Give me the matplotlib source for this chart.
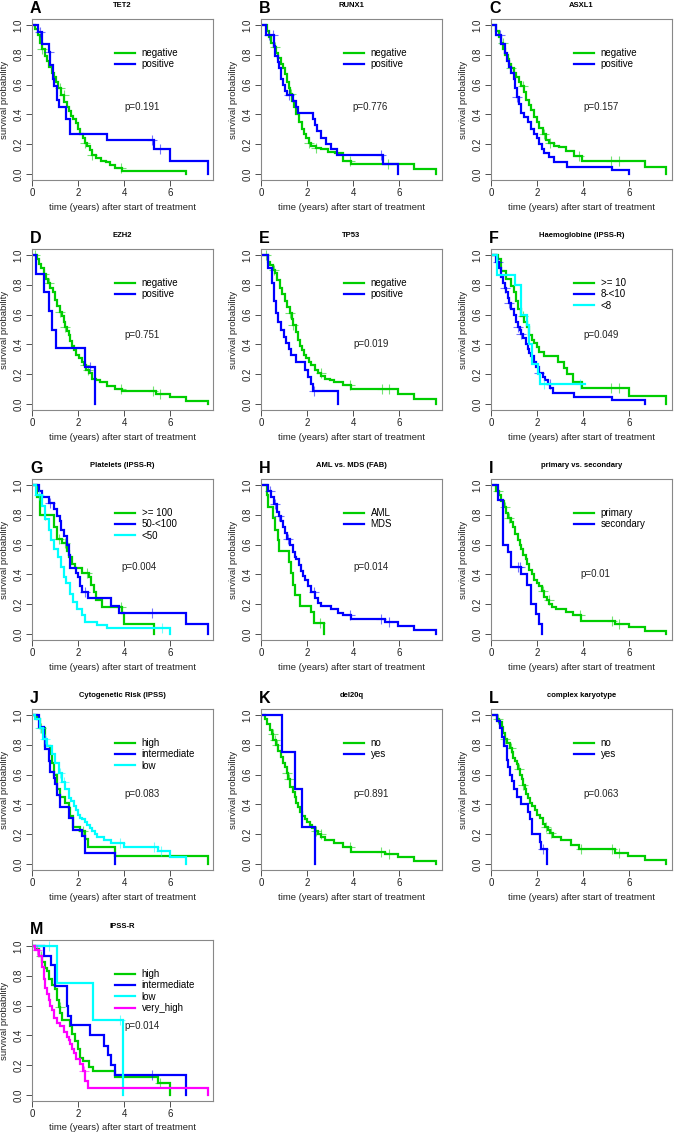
import numpy as np
import matplotlib
matplotlib.use("Agg")
import matplotlib.pyplot as plt

plt.rcParams['font.family'] = ['Liberation Sans', 'DejaVu Sans']

GREEN = '#00CD00'
BLUE = '#0000FF'
CYAN = '#00FFFF'
MAGENTA = '#FF00FF'

# ---------------- data (step times, survival after step, censor times) ----------------
# A  TET2
A_neg_t = [0.15,0.25,0.35,0.45,0.55,0.65,0.75,0.85,0.95,1.05,1.15,1.25,1.4,1.5,1.6,1.7,1.8,1.9,2.0,2.1,2.2,2.3,2.4,2.5,2.6,2.8,3.0,3.2,3.4,3.6,3.9,6.67]
A_neg_s = [0.97,0.93,0.88,0.84,0.79,0.76,0.72,0.68,0.65,0.62,0.58,0.53,0.48,0.45,0.42,0.39,0.37,0.34,0.30,0.27,0.24,0.21,0.19,0.16,0.13,0.11,0.09,0.08,0.06,0.04,0.02,0.0]
A_neg_c = [0.45,1.2,1.38,2.32,2.6,3.85]
A_pos_t = [0.25,0.45,0.72,0.8,0.9,0.97,1.07,1.16,1.48,1.67,3.26,5.3,5.99,7.64]
A_pos_s = [0.955,0.87,0.82,0.73,0.64,0.59,0.50,0.45,0.37,0.27,0.23,0.17,0.085,0.0]
A_pos_c = [0.35,0.75,5.22,5.58]
# B  RUNX1
B_neg_t = [0.25,0.35,0.45,0.55,0.65,0.75,0.85,0.95,1.04,1.12,1.2,1.28,1.36,1.45,1.54,1.65,1.76,1.87,1.97,2.1,2.19,2.4,2.6,2.9,3.2,3.55,3.9,6.65,7.58]
B_neg_s = [0.96,0.92,0.88,0.85,0.81,0.78,0.74,0.71,0.67,0.62,0.58,0.54,0.49,0.45,0.40,0.35,0.30,0.27,0.24,0.21,0.19,0.175,0.165,0.15,0.14,0.09,0.07,0.035,0.0]
B_neg_c = [0.6,1.32,2.1,2.4,3.85,5.5]
B_pos_t = [0.22,0.58,0.62,0.72,0.8,0.88,0.95,1.03,1.15,1.4,1.5,1.62,2.26,2.33,2.45,2.6,2.82,3.05,3.3,5.28,5.96]
B_pos_s = [0.93,0.86,0.79,0.75,0.71,0.64,0.60,0.56,0.53,0.49,0.45,0.41,0.37,0.33,0.29,0.24,0.20,0.165,0.125,0.065,0.0]
B_pos_c = [0.35,0.5,1.2,5.2]
# C  ASXL1
C_neg_t = [0.23,0.35,0.45,0.52,0.62,0.72,0.8,0.88,0.98,1.09,1.2,1.31,1.42,1.53,1.64,1.74,1.88,2.0,2.1,2.24,2.38,2.53,2.75,2.96,3.25,3.6,3.97,6.68,7.61]
C_neg_s = [0.96,0.92,0.88,0.84,0.80,0.77,0.74,0.71,0.68,0.65,0.62,0.59,0.55,0.50,0.46,0.43,0.38,0.35,0.31,0.27,0.23,0.205,0.19,0.18,0.155,0.12,0.09,0.045,0.0]
C_neg_c = [0.5,0.88,1.38,2.3,2.55,3.83,5.2,5.55]
C_pos_t = [0.23,0.45,0.59,0.68,0.78,0.88,0.98,1.05,1.12,1.2,1.3,1.45,1.6,1.74,1.88,2.0,2.1,2.22,2.32,2.53,2.75,3.32,5.27,5.99]
C_pos_s = [0.93,0.87,0.81,0.76,0.72,0.68,0.64,0.58,0.52,0.47,0.41,0.38,0.35,0.30,0.27,0.24,0.20,0.17,0.14,0.115,0.08,0.05,0.025,0.0]
C_pos_c = [0.37,1.15]
# D  EZH2
D_neg_t = [0.2,0.29,0.4,0.5,0.6,0.7,0.8,0.9,1.0,1.1,1.2,1.3,1.38,1.45,1.52,1.6,1.67,1.75,1.82,1.92,2.03,2.15,2.25,2.35,2.46,2.6,2.8,2.97,3.26,3.6,3.9,5.4,6.0,6.67,7.64]
D_neg_s = [0.97,0.94,0.91,0.87,0.84,0.81,0.78,0.75,0.70,0.66,0.62,0.59,0.55,0.52,0.49,0.46,0.42,0.39,0.36,0.33,0.31,0.28,0.26,0.23,0.21,0.17,0.16,0.15,0.12,0.10,0.086,0.065,0.045,0.022,0.0]
D_neg_c = [0.15,0.5,0.75,1.2,1.45,2.3,2.45,3.85,5.25,5.58]
D_pos_t = [0.17,0.5,0.75,0.87,1.06,2.32,2.75]
D_pos_s = [0.875,0.75,0.625,0.5,0.375,0.25,0.0]
D_pos_c = [2.5]
# E  TP53
E_neg_t = [0.3,0.4,0.5,0.6,0.7,0.82,0.92,1.04,1.14,1.25,1.33,1.4,1.5,1.61,1.7,1.76,1.87,1.97,2.08,2.19,2.33,2.48,2.62,2.76,3.0,3.19,3.55,3.91,5.93,6.65,7.58]
E_neg_s = [0.95,0.93,0.90,0.88,0.83,0.78,0.74,0.69,0.65,0.61,0.57,0.53,0.48,0.43,0.39,0.36,0.33,0.31,0.28,0.26,0.23,0.21,0.19,0.17,0.16,0.15,0.125,0.10,0.07,0.034,0.0]
E_neg_c = [0.2,0.55,1.25,1.4,2.6,3.85,5.25,5.58]
E_pos_t = [0.32,0.46,0.58,0.65,0.72,0.89,0.99,1.08,1.2,1.32,1.54,1.9,2.04,2.16,2.26,3.34]
E_pos_s = [0.91,0.81,0.69,0.61,0.55,0.50,0.45,0.41,0.37,0.33,0.28,0.23,0.18,0.135,0.09,0.0]
E_pos_c = [2.3]
# F  Haemoglobine
F_hi_t = [0.3,0.45,0.66,0.88,1.02,1.1,1.17,1.31,1.45,1.55,1.67,1.78,1.88,2.0,2.1,2.32,2.9,3.18,3.32,3.54,3.97,5.99,7.6]
F_hi_s = [0.97,0.89,0.84,0.79,0.75,0.69,0.64,0.59,0.55,0.52,0.46,0.43,0.41,0.38,0.35,0.32,0.28,0.24,0.20,0.15,0.11,0.055,0.0]
F_hi_c = [1.38,5.2,5.55]
F_mid_t = [0.23,0.35,0.45,0.52,0.59,0.66,0.73,0.8,0.88,0.98,1.09,1.17,1.24,1.31,1.38,1.5,1.6,1.67,1.74,1.85,1.96,2.1,2.24,2.35,2.46,2.57,2.68,3.61,5.27,6.68]
F_mid_s = [0.95,0.91,0.85,0.81,0.78,0.75,0.71,0.68,0.64,0.60,0.55,0.52,0.50,0.47,0.44,0.40,0.37,0.34,0.32,0.28,0.25,0.21,0.18,0.16,0.135,0.105,0.075,0.05,0.025,0.0]
F_mid_c = [0.3,0.6,0.8,1.17,1.31,2.1,2.55]
F_lo_t = [0.27,1.06,1.31,1.55,1.67,1.8,2.02,2.12,4.1]
F_lo_s = [0.867,0.8,0.6,0.533,0.4,0.267,0.2,0.133,0.133]
F_lo_c = [2.29,3.86]
# G  Platelets
G_hi_t = [0.22,0.36,0.94,1.08,1.3,1.52,1.62,1.74,1.88,2.17,2.46,2.56,2.68,2.78,3.04,3.91,3.98,5.29]
G_hi_s = [0.92,0.80,0.72,0.64,0.61,0.56,0.52,0.47,0.44,0.41,0.38,0.33,0.28,0.23,0.18,0.14,0.068,0.0]
G_hi_c = [0.58,1.16,1.45,2.39,3.87]
G_mid_t = [0.29,0.43,0.72,0.97,1.08,1.2,1.28,1.38,1.52,1.59,1.67,1.93,1.98,2.07,2.17,2.42,3.41,3.77,6.7,7.64]
G_mid_s = [0.96,0.92,0.88,0.84,0.79,0.76,0.70,0.66,0.60,0.53,0.44,0.41,0.38,0.32,0.28,0.24,0.19,0.14,0.068,0.0]
G_mid_c = [0.8,2.28,5.22]
G_lo_t = [0.19,0.43,0.58,0.72,0.83,0.94,1.12,1.26,1.38,1.49,1.64,1.78,1.96,2.17,2.32,2.83,3.26,6.01]
G_lo_s = [0.93,0.86,0.77,0.70,0.63,0.57,0.52,0.45,0.38,0.34,0.27,0.215,0.17,0.125,0.08,0.063,0.04,0.0]
G_lo_c = [0.3,5.65]
# H  AML vs MDS
H_aml_t = [0.24,0.32,0.53,0.6,0.72,0.78,1.2,1.3,1.38,1.47,1.68,2.19,2.3,2.73]
H_aml_s = [0.93,0.85,0.78,0.70,0.63,0.56,0.48,0.41,0.33,0.26,0.19,0.15,0.074,0.0]
H_aml_c = [2.55]
H_mds_t = [0.3,0.45,0.58,0.68,0.78,0.89,0.96,1.04,1.12,1.25,1.4,1.47,1.54,1.63,1.73,1.82,1.9,2.04,2.19,2.33,2.48,2.62,3.05,3.34,3.55,3.91,5.4,5.96,6.65,7.58]
H_mds_s = [0.96,0.92,0.87,0.82,0.79,0.76,0.72,0.68,0.64,0.60,0.55,0.52,0.50,0.46,0.42,0.39,0.36,0.32,0.28,0.24,0.21,0.19,0.17,0.14,0.125,0.10,0.08,0.054,0.027,0.0]
H_mds_c = [0.4,0.6,0.8,1.18,2.3,3.85,5.2,5.55]
# I  primary vs secondary
I_pri_t = [0.23,0.35,0.45,0.55,0.66,0.75,0.85,0.95,1.05,1.17,1.24,1.31,1.4,1.5,1.58,1.67,1.77,1.88,2.0,2.1,2.2,2.32,2.42,2.53,2.65,2.82,3.25,3.54,3.9,5.4,5.99,6.68,7.6]
I_pri_s = [0.96,0.93,0.89,0.85,0.81,0.78,0.75,0.72,0.67,0.63,0.60,0.57,0.53,0.50,0.47,0.43,0.40,0.36,0.34,0.32,0.29,0.25,0.23,0.20,0.18,0.17,0.15,0.125,0.09,0.07,0.05,0.023,0.0]
I_pri_c = [0.3,0.6,0.8,2.25,2.5,3.85,5.25,5.58]
I_sec_t = [0.3,0.52,0.73,0.88,1.31,1.55,1.74,1.96,2.07,2.2]
I_sec_s = [0.90,0.60,0.55,0.45,0.40,0.33,0.20,0.133,0.067,0.0]
I_sec_c = [1.17,1.24]
# J  Cytogenetic risk
J_hi_t = [0.22,0.36,0.58,0.8,0.87,0.94,1.09,1.23,1.45,1.6,1.67,1.78,2.07,2.32,2.42,3.62,7.64]
J_hi_s = [0.97,0.91,0.79,0.74,0.68,0.60,0.50,0.45,0.41,0.375,0.32,0.25,0.22,0.17,0.115,0.057,0.0]
J_hi_c = [0.4,2.2]
J_mid_t = [0.29,0.5,0.58,0.72,0.8,0.94,1.01,1.1,1.23,1.6,1.78,2.17,2.32,3.62]
J_mid_s = [0.92,0.85,0.77,0.69,0.62,0.58,0.54,0.46,0.385,0.31,0.23,0.19,0.077,0.0]
J_mid_c = []
J_lo_t = [0.14,0.33,0.48,0.65,0.87,1.01,1.16,1.3,1.45,1.6,1.7,1.81,1.9,1.99,2.08,2.17,2.28,2.39,2.5,2.61,2.72,2.83,3.12,3.41,3.99,5.45,6.01,6.67]
J_lo_s = [0.975,0.91,0.84,0.79,0.74,0.68,0.61,0.55,0.50,0.44,0.42,0.39,0.36,0.33,0.31,0.30,0.28,0.26,0.24,0.22,0.20,0.18,0.16,0.14,0.115,0.09,0.045,0.0]
J_lo_c = [0.35,0.55,1.23,1.4,3.84,5.29,5.6]
# K  del20q
K_no_t = [0.17,0.28,0.39,0.46,0.53,0.64,0.75,0.86,0.96,1.04,1.11,1.18,1.25,1.4,1.47,1.54,1.61,1.68,1.79,1.9,2.0,2.12,2.22,2.33,2.47,2.62,2.76,3.19,3.55,3.91,5.4,5.93,6.65,7.58]
K_no_s = [0.975,0.94,0.90,0.87,0.83,0.80,0.76,0.72,0.68,0.65,0.61,0.57,0.52,0.48,0.45,0.41,0.38,0.35,0.32,0.30,0.28,0.26,0.24,0.22,0.20,0.18,0.16,0.14,0.115,0.08,0.065,0.045,0.022,0.0]
K_no_c = [0.5,0.6,0.68,1.15,1.2,2.4,2.6,3.85,5.2,5.55]
K_yes_t = [0.92,1.47,1.78,2.33]
K_yes_s = [0.75,0.5,0.25,0.0]
K_yes_c = []
# L  complex karyotype
L_no_t = [0.24,0.35,0.46,0.53,0.6,0.7,0.82,0.9,0.96,1.04,1.11,1.18,1.25,1.33,1.4,1.47,1.54,1.61,1.68,1.79,1.9,2.01,2.12,2.26,2.36,2.47,2.58,2.69,3.05,3.48,3.84,5.4,5.97,6.68,7.61]
L_no_s = [0.975,0.95,0.92,0.88,0.84,0.81,0.78,0.75,0.71,0.69,0.67,0.64,0.60,0.57,0.53,0.50,0.47,0.44,0.41,0.39,0.36,0.33,0.31,0.27,0.25,0.23,0.21,0.18,0.16,0.127,0.10,0.075,0.052,0.025,0.0]
L_no_c = [0.3,0.6,0.85,1.2,1.4,2.4,2.6,3.9,5.25,5.58]
L_yes_t = [0.24,0.39,0.46,0.58,0.68,0.75,0.82,0.92,1.01,1.11,1.32,1.61,1.68,1.76,2.12,2.19,2.45]
L_yes_s = [0.96,0.91,0.85,0.79,0.70,0.65,0.60,0.56,0.50,0.45,0.40,0.35,0.30,0.20,0.15,0.10,0.0]
L_yes_c = [2.26]
# M  IPSS-R
M_hi_t = [0.14,0.29,0.43,0.58,0.65,0.72,0.87,1.01,1.09,1.16,1.23,1.3,1.67,1.74,1.88,1.99,2.07,2.22,2.46,2.64,3.62,5.45,5.99]
M_hi_s = [0.98,0.93,0.89,0.85,0.83,0.78,0.74,0.71,0.64,0.59,0.55,0.50,0.46,0.41,0.36,0.31,0.25,0.23,0.185,0.16,0.12,0.078,0.0]
M_hi_c = [0.4,1.2,5.58]
M_mid_t = [0.54,0.83,1.01,1.52,1.57,1.7,2.54,3.12,3.29,3.41,3.62,6.7]
M_mid_s = [0.93,0.87,0.73,0.60,0.53,0.47,0.40,0.33,0.27,0.20,0.133,0.0]
M_mid_c = [5.22]
M_lo_t = [1.09,2.64,3.96]
M_lo_s = [0.75,0.5,0.0]
M_lo_c = [0.72,3.84]
M_vh_t = [0.14,0.29,0.43,0.51,0.58,0.65,0.72,0.8,0.87,0.97,1.09,1.23,1.38,1.52,1.6,1.67,1.74,1.81,1.93,2.07,2.22,2.32,2.42,7.64]
M_vh_s = [0.97,0.93,0.86,0.78,0.72,0.68,0.64,0.60,0.57,0.52,0.48,0.46,0.42,0.39,0.37,0.34,0.31,0.28,0.24,0.21,0.16,0.095,0.05,0.0]
M_vh_c = [0.2,2.25]

letters = ['A','B','C','D','E','F','G','H','I','J','K','L','M']
titles = ['TET2','RUNX1','ASXL1','EZH2','TP53','Haemoglobine (IPSS-R)','Platelets (IPSS-R)',
          'AML vs. MDS (FAB)','primary vs. secondary','Cytogenetic Risk (IPSS)','del20q',
          'complex karyotype','IPSS-R']
pvalues = ['p=0.191','p=0.776','p=0.157','p=0.751','p=0.019','p=0.049','p=0.004',
           'p=0.014','p=0.01','p=0.083','p=0.891','p=0.063','p=0.014']

curves = [
    [('negative', GREEN, A_neg_t, A_neg_s, A_neg_c), ('positive', BLUE, A_pos_t, A_pos_s, A_pos_c)],
    [('negative', GREEN, B_neg_t, B_neg_s, B_neg_c), ('positive', BLUE, B_pos_t, B_pos_s, B_pos_c)],
    [('negative', GREEN, C_neg_t, C_neg_s, C_neg_c), ('positive', BLUE, C_pos_t, C_pos_s, C_pos_c)],
    [('negative', GREEN, D_neg_t, D_neg_s, D_neg_c), ('positive', BLUE, D_pos_t, D_pos_s, D_pos_c)],
    [('negative', GREEN, E_neg_t, E_neg_s, E_neg_c), ('positive', BLUE, E_pos_t, E_pos_s, E_pos_c)],
    [('>= 10', GREEN, F_hi_t, F_hi_s, F_hi_c), ('8-<10', BLUE, F_mid_t, F_mid_s, F_mid_c),
     ('<8', CYAN, F_lo_t, F_lo_s, F_lo_c)],
    [('>= 100', GREEN, G_hi_t, G_hi_s, G_hi_c), ('50-<100', BLUE, G_mid_t, G_mid_s, G_mid_c),
     ('<50', CYAN, G_lo_t, G_lo_s, G_lo_c)],
    [('AML', GREEN, H_aml_t, H_aml_s, H_aml_c), ('MDS', BLUE, H_mds_t, H_mds_s, H_mds_c)],
    [('primary', GREEN, I_pri_t, I_pri_s, I_pri_c), ('secondary', BLUE, I_sec_t, I_sec_s, I_sec_c)],
    [('high', GREEN, J_hi_t, J_hi_s, J_hi_c), ('intermediate', BLUE, J_mid_t, J_mid_s, J_mid_c),
     ('low', CYAN, J_lo_t, J_lo_s, J_lo_c)],
    [('no', GREEN, K_no_t, K_no_s, K_no_c), ('yes', BLUE, K_yes_t, K_yes_s, K_yes_c)],
    [('no', GREEN, L_no_t, L_no_s, L_no_c), ('yes', BLUE, L_yes_t, L_yes_s, L_yes_c)],
    [('high', GREEN, M_hi_t, M_hi_s, M_hi_c), ('intermediate', BLUE, M_mid_t, M_mid_s, M_mid_c),
     ('low', CYAN, M_lo_t, M_lo_s, M_lo_c), ('very_high', MAGENTA, M_vh_t, M_vh_s, M_vh_c)],
]

# p-value text positions (data coords)
p_pos = [(4.78,0.45),(4.73,0.45),(4.76,0.45),(4.78,0.46),(4.78,0.40),(4.76,0.46),(4.64,0.45),
         (4.78,0.45),(4.55,0.40),(4.78,0.47),(4.78,0.47),(4.78,0.47),(4.78,0.46)]

# ---------------- layout ----------------
W, H = 675, 1132
fig = plt.figure(figsize=(W/100, H/100), dpi=100)
col_left = [32, 261, 491]
row_top = [19, 249, 479, 709, 940]
aw, ah = 181, 161
TXT = '#222222'

for i in range(13):
    r, c = divmod(i, 3)
    l, t = col_left[c], row_top[r]
    ax = fig.add_axes([l / W, 1 - (t + ah) / H, aw / W, ah / H])
    handles = []
    for lab, col, tt, ss, cc in curves[i]:
        x = np.concatenate([[0.0], tt])
        y = np.concatenate([[1.0], ss])
        ln, = ax.step(x, y, where='post', color=col, lw=1.6, label=lab, solid_joinstyle='miter')
        handles.append(ln)
        if len(cc):
            cc = np.asarray(cc)
            cy = y[np.searchsorted(x, cc, side='right') - 1]
            ax.plot(cc, cy, '+', color=col, ms=7.5, mew=0.8, alpha=0.55, ls='none')
    ax.set_xlim(0, 7.86)
    ax.set_ylim(-0.04, 1.04)
    ax.set_xticks([0, 2, 4, 6])
    ax.set_yticks([0, 0.2, 0.4, 0.6, 0.8, 1.0])
    ax.set_yticklabels(['0.0', '0.2', '0.4', '0.6', '0.8', '1.0'], rotation=90, va='center')
    ax.tick_params(length=4, width=0.6, color='#333333', labelsize=7, labelcolor=TXT, pad=2)
    for sp in ax.spines.values():
        sp.set_color('#888888')
        sp.set_linewidth(0.8)
    ax.set_xlabel('time (years) after start of treatment', fontsize=6.8, color=TXT, labelpad=3)
    ax.set_ylabel('survival probability', fontsize=6.8, color=TXT, labelpad=3)
    ax.legend(handles=handles, loc='upper left', bbox_to_anchor=(0.46, 0.82), frameon=False,
              fontsize=7, handlelength=2.0, handletextpad=0.7, labelspacing=0.15,
              borderpad=0, borderaxespad=0)
    ax.text(p_pos[i][0], p_pos[i][1], pvalues[i], ha='center', va='center', fontsize=7, color=TXT)
    fig.text((l - 2) / W, 1 - (t - 6) / H, letters[i], fontsize=11.5, fontweight='bold',
             ha='left', va='baseline', color='black')
    fig.text((l + aw / 2) / W, 1 - (t - 12) / H, titles[i], fontsize=5.5, fontweight='bold',
             ha='center', va='baseline', color='black')

fig.savefig('out.png', dpi=100)
